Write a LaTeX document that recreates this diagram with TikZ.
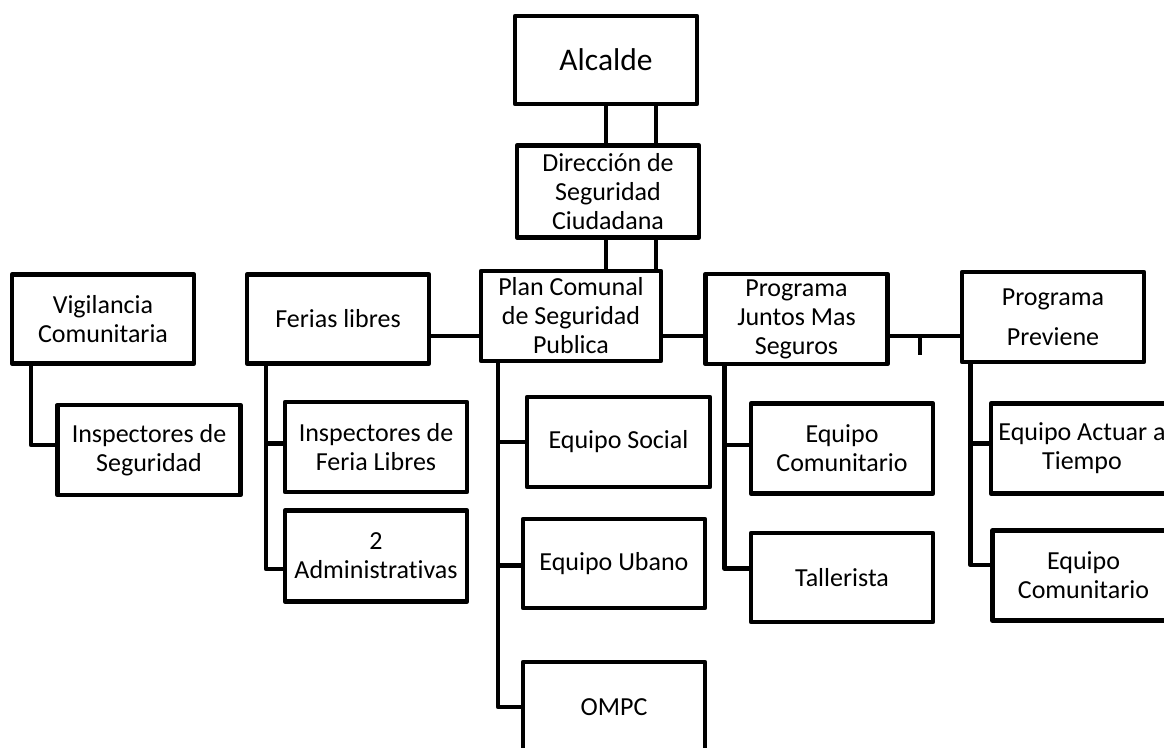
\documentclass[tikz,border=0pt]{standalone}
\usepackage{fontspec}
\setmainfont{Carlito}[Ligatures=NoCommon]
\tikzset{
  box/.style={draw, line width=4.8pt, line join=round, outer sep=0pt, inner sep=0pt,
    align=center, minimum width=182pt, minimum height=90pt,
    font=\fontsize{26}{29}\selectfont},
  conn/.style={line width=4.8pt, line join=round},
}
\begin{document}
\begin{tikzpicture}[x=1pt, y=-1pt]
\clip (0,0) rectangle (1164,747);
% nodes
\node[box, minimum height=88pt, font=\fontsize{31.5}{36}\selectfont] (alc) at (606,60) {Alcalde};
\node[box, minimum height=92pt] (dir) at (608,191.5) {Dirección de\\Seguridad\\Ciudadana};
\node[box, minimum width=180pt] (plan) at (571,316) {Plan Comunal\\de Seguridad\\Publica};
\node[box, minimum height=89pt] (vig) at (103,319) {Vigilancia\\Comunitaria};
\node[box, minimum width=183pt] (insS) at (149,450) {Inspectores de\\Seguridad};
\node[box, minimum height=89pt] (fer) at (338,319) {Ferias libres};
\node[box] (insF) at (376,447) {Inspectores de\\Feria Libres};
\node[box, minimum height=91pt] (adm) at (376,556) {2\\Administrativas};
\node[box, minimum width=183pt] (soc) at (618.5,442) {Equipo Social};
\node[box, minimum height=89pt] (urb) at (614,563.5) {Equipo Ubano};
\node[box] (ompc) at (614,707) {OMPC};
\node[box] (jun) at (796.5,319) {Programa\\Juntos Mas\\Seguros};
\node[box] (prev) at (1053,317) {Programa\\[11pt]Previene};
\node[box] (eqc1) at (842,448.5) {Equipo\\Comunitario};
\node[box, minimum height=89pt] (tall) at (842,577.5) {Tallerista};
\node[box] (act) at (1082,448.5) {Equipo Actuar a\\Tiempo};
\node[box] (eqc2) at (1083.5,575.5) {Equipo\\Comunitario};
% helper coordinates
\coordinate (xa) at (606,0);
\coordinate (xb) at (656,0);
\coordinate (yh) at (0,336);
\coordinate (tk) at (920,355);
\coordinate (vx) at (31,0);
\coordinate (fx) at (266,0);
\coordinate (px) at (498,0);
\coordinate (jx) at (724.5,0);
\coordinate (qx) at (970.5,0);
% connectors
\draw[conn] (alc.south -| xa) -- (dir.north -| xa);
\draw[conn] (alc.south -| xb) -- (dir.north -| xb);
\draw[conn] (dir.south -| xa) -- (plan.north -| xa);
\draw[conn] (dir.south -| xb) -- (plan.north -| xb);
\draw[conn] (fer.east |- yh) -- (plan.west |- yh);
\draw[conn] (plan.east |- yh) -- (jun.west |- yh);
\draw[conn] (jun.east |- yh) -- (prev.west |- yh);
\draw[conn] (tk |- yh) -- (tk);
\draw[conn] (vig.south -| vx) |- ([yshift=5pt]insS.west);
\draw[conn] (fer.south -| fx) |- ([yshift=3.5pt]insF.west);
\draw[conn] (fer.south -| fx) |- ([yshift=-13pt]adm.west);
\draw[conn] (plan.south -| px) |- (soc.west);
\draw[conn] (plan.south -| px) |- ([yshift=-1.8pt]urb.west);
\draw[conn] (plan.south -| px) |- (ompc.west);
\draw[conn] (jun.south -| jx) |- ([yshift=3.5pt]eqc1.west);
\draw[conn] (jun.south -| jx) |- ([yshift=9pt]tall.west);
\draw[conn] (prev.south -| qx) |- ([yshift=5pt]act.west);
\draw[conn] (prev.south -| qx) |- ([yshift=10.5pt]eqc2.west);
\end{tikzpicture}
\end{document}
